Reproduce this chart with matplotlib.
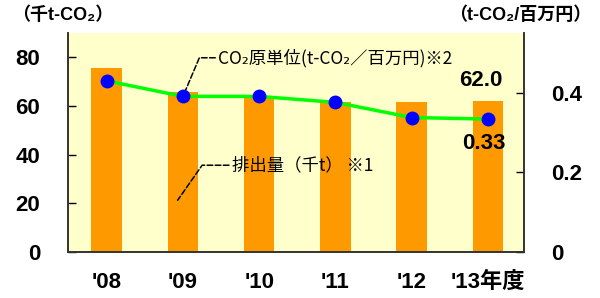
import numpy as np
import matplotlib.pyplot as plt

years = ["'08", "'09", "'10", "'11", "'12", "'13年度"]
emissions = [75.5, 65.6, 64.1, 61.8, 61.5, 62.0]       # 千t-CO2
intensity = [0.430, 0.391, 0.391, 0.376, 0.338, 0.334]  # t-CO2/百万円

BOLD = ['Liberation Sans', 'Noto Sans CJK JP', 'DejaVu Sans']
CJK = ['Noto Sans CJK JP', 'DejaVu Sans']

fig = plt.figure(figsize=(6, 2.98), dpi=100)
ax1 = fig.add_axes([0.113, 0.154, 0.76, 0.735])
ax2 = ax1.twinx()

x = np.arange(len(years))
ax1.set_facecolor('#FFFFCC')
ax1.bar(x, emissions, width=0.4, color='#FF9900', zorder=2)
ax1.set_xlim(-0.51, 5.47)
ax1.set_ylim(0, 90)
ax1.set_yticks([0, 20, 40, 60, 80])
ax1.set_xticks(x)
ax1.set_xticklabels(years)

ax2.plot(x, intensity, color='#00FF00', lw=2.5, zorder=3)
ax2.plot(x, intensity, 'o', color='#0000FF', ms=9, zorder=4)
ax2.set_ylim(0, 0.55)
ax2.set_yticks([0, 0.2, 0.4])
ax2.set_yticklabels(['0', '0.2', '0.4'])

for ax in (ax1, ax2):
    ax.spines['top'].set_visible(False)
    for s in ('left', 'right', 'bottom'):
        ax.spines[s].set_color('#333333')
        ax.spines[s].set_linewidth(1.2)
    ax.tick_params(axis='y', direction='in', length=6, width=1, pad=20)
    for lab in ax.get_yticklabels():
        lab.set_family(BOLD)
        lab.set_fontweight('bold')
        lab.set_fontsize(16)
ax1.tick_params(axis='x', length=0, pad=14)
for lab in ax1.get_xticklabels():
    lab.set_family(BOLD)
    lab.set_fontweight('bold')
    lab.set_fontsize(16)

# 最終年度の数値ラベル
ax1.text(x[-1] - 0.1, emissions[-1] + 4, f'{emissions[-1]:.1f}', ha='center',
         va='bottom', fontsize=16, fontweight='bold', family=BOLD)
ax2.text(x[-1] - 0.05, intensity[-1] - 0.035, f'{intensity[-1]:.2f}', ha='center',
         va='top', fontsize=16, fontweight='bold', family=BOLD)

# 引き出し線付きの系列名
ax2.annotate('CO₂原単位(t-CO₂／百万円)※2', xy=(x[1], intensity[1]),
             xytext=(1.46, 0.488), ha='left', va='center', fontsize=12.5,
             family=CJK,
             arrowprops=dict(arrowstyle='-', linestyle='--', color='black', lw=1.1,
                             shrinkA=0, shrinkB=0,
                             connectionstyle='angle,angleA=0,angleB=67,rad=0'))
ax1.annotate('排出量（千t） ※1', xy=(0.93, 21.3), xytext=(1.64, 35.7),
             ha='left', va='center', fontsize=12.5, family=CJK,
             arrowprops=dict(arrowstyle='-', linestyle='--', color='black', lw=1.1,
                             shrinkA=0, shrinkB=0,
                             connectionstyle='angle,angleA=0,angleB=55,rad=0'))

# 単位
fig.text(0.02, 0.95, '（千t-CO₂）', ha='left', va='center', fontsize=13,
         fontweight='bold', family=BOLD)
fig.text(0.985, 0.95, '（t-CO₂/百万円）', ha='right', va='center', fontsize=13,
         fontweight='bold', family=BOLD)

fig.savefig('out.png', dpi=100)
